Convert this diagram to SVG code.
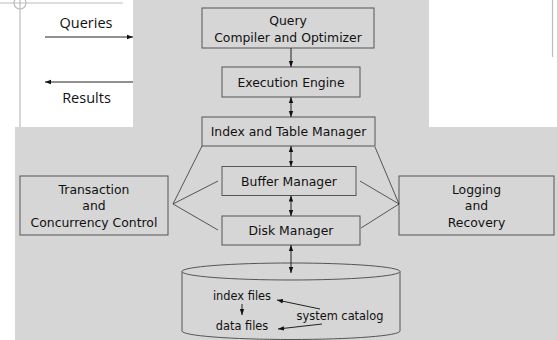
<svg xmlns="http://www.w3.org/2000/svg" width="557" height="340" viewBox="0 0 557 340">
<style>
.bg{fill:#d6d6d6}
.box{fill:#d6d6d6;stroke:#555;stroke-width:1}
.t{font-family:"DejaVu Sans",Verdana,sans-serif;font-size:12.4px;fill:#111;text-anchor:middle}
.s{font-family:"DejaVu Sans",Verdana,sans-serif;font-size:11.4px;fill:#111;text-anchor:middle}
.q{font-family:"Open Sans","Liberation Sans",sans-serif;font-size:14.5px;fill:#111;text-anchor:middle}
.ln{stroke:#222;stroke-width:1;fill:none}
.thin{stroke:#333;stroke-width:0.8;fill:none}
.frame{stroke:#bdbdbd;stroke-width:1.2;fill:none}
</style>
<defs>
<marker id="ah" viewBox="0 0 6 6" refX="6" refY="3" markerWidth="6" markerHeight="6" orient="auto-start-reverse" markerUnits="userSpaceOnUse">
<path d="M0,0.8 L6,3 L0,5.2 z" fill="#111"/>
</marker>
</defs>
<rect width="557" height="340" fill="#fff"/>
<path class="bg" d="M133,0 H429 V127 H557 V340 H15 V127 H133 Z"/>
<g id="frame">
<path class="frame" d="M20,0 V127 M0,3 H123 M552.5,0 V57"/>
<circle cx="20" cy="3" r="6" class="frame" stroke-width="0.8"/>
</g>
<g id="io">
<text class="q" x="86" y="28">Queries</text>
<text class="q" x="86.5" y="103">Results</text>
</g>
<g id="query-compiler">
<rect class="box" x="202" y="8" width="172" height="40"/>
<text class="t" x="288" y="25">Query</text>
<text class="t" x="288" y="42">Compiler and Optimizer</text>
</g>
<g id="execution-engine">
<rect class="box" x="222" y="67" width="138" height="30"/>
<text class="t" x="291" y="87">Execution Engine</text>
</g>
<g id="index-table-manager">
<rect class="box" x="202" y="117" width="173" height="29"/>
<text class="t" x="288.5" y="136">Index and Table Manager</text>
</g>
<g id="buffer-manager">
<rect class="box" x="222" y="166.5" width="134" height="29"/>
<text class="t" x="289" y="185.5">Buffer Manager</text>
</g>
<g id="disk-manager">
<rect class="box" x="222" y="216" width="138" height="29"/>
<text class="t" x="291" y="235">Disk Manager</text>
</g>
<g id="transaction">
<rect class="box" x="20" y="176" width="148" height="59"/>
<text class="t" x="94" y="194">Transaction</text>
<text class="t" x="94" y="210">and</text>
<text class="t" x="94" y="227">Concurrency Control</text>
</g>
<g id="logging">
<rect class="box" x="399" y="176" width="155" height="59"/>
<text class="t" x="476.5" y="194">Logging</text>
<text class="t" x="476.5" y="210">and</text>
<text class="t" x="476.5" y="227">Recovery</text>
</g>
<g id="database">
<path class="box" d="M182,271.5 V331 A109,8.5 0 0 0 400,331 V271.5"/>
<ellipse class="box" cx="291" cy="271.5" rx="109" ry="8.5"/>
<text class="s" x="242" y="300">index files</text>
<text class="s" x="242" y="330">data files</text>
<text class="s" x="340" y="320">system catalog</text>
</g>
<g id="connectors">
<line class="ln" x1="45" y1="37" x2="133" y2="37" marker-end="url(#ah)"/>
<line class="ln" x1="133" y1="82" x2="45" y2="82" marker-end="url(#ah)"/>
<line class="ln" x1="291" y1="48" x2="291" y2="67" marker-end="url(#ah)"/>
<line class="ln" x1="291" y1="97" x2="291" y2="117" marker-start="url(#ah)" marker-end="url(#ah)"/>
<line class="ln" x1="291" y1="146" x2="291" y2="166.5" marker-start="url(#ah)" marker-end="url(#ah)"/>
<line class="ln" x1="291" y1="195.5" x2="291" y2="216" marker-start="url(#ah)" marker-end="url(#ah)"/>
<line class="ln" x1="291" y1="245" x2="291" y2="273" marker-start="url(#ah)" marker-end="url(#ah)"/>
<path class="thin" d="M202,146 L173,204 L218,181 M173,204 L218,230"/>
<path class="thin" d="M375,147 L399,204 L360,181 M399,204 L361,228"/>
<line class="ln" x1="242" y1="304" x2="242" y2="315" marker-end="url(#ah)"/>
<line class="ln" x1="320" y1="309" x2="277" y2="300" marker-end="url(#ah)"/>
<line class="ln" x1="322" y1="324" x2="278" y2="329" marker-end="url(#ah)"/>
</g>
</svg>
